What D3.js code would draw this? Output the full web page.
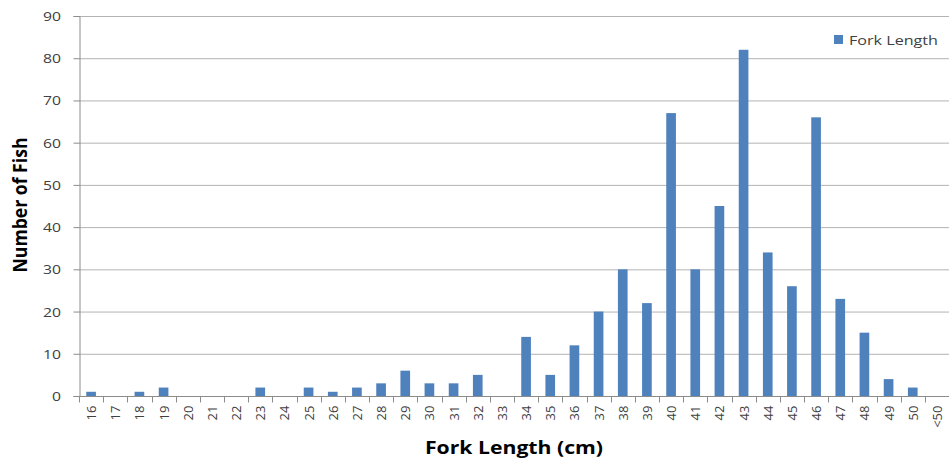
<!DOCTYPE html>
<html>
<head>
<meta charset="utf-8">
<script src="https://cdn.jsdelivr.net/npm/d3@7"></script>
<style>
  html, body { margin: 0; padding: 0; background: #fff; }
  svg { display: block; }
</style>
</head>
<body>
<svg id="chart" width="949" height="460"></svg>
<script>
// Fork length classes (cm) and fish counts
const categories = ["16","17","18","19","20","21","22","23","24","25","26","27","28","29","30","31","32","33",
  "34","35","36","37","38","39","40","41","42","43","44","45","46","47","48","49","50","<50"];
const counts = [1,0,1,2,0,0,0,2,0,2,1,2,3,6,3,3,5,0,
  14,5,12,20,30,22,67,30,45,82,34,26,66,23,15,4,2,0];
const yTicks = [0,10,20,30,40,50,60,70,80,90];
const seriesName = "Fork Length";

const svg = d3.select("#chart");
const margin = { left: 79, right: 0, top: 16, bottom: 64 };
const W = 949, H = 460;
const font = "'Open Sans', 'Noto Sans', sans-serif";
const textGrey = "#404040";
const axisGrey = "#8c8c8c";

const x = d3.scaleBand().domain(categories).range([margin.left, W - margin.right]).paddingInner(0.6).paddingOuter(0.3);
const y = d3.scaleLinear().domain([0, 90]).range([H - margin.bottom, margin.top]);

// horizontal gridlines
svg.append("g").selectAll("line").data(yTicks.filter(d => d > 0)).join("line")
  .attr("x1", margin.left).attr("x2", W - margin.right)
  .attr("y1", d => y(d) + 0.5).attr("y2", d => y(d) + 0.5)
  .attr("stroke", "#b3b3b3").attr("stroke-width", 1);

// bars
svg.append("g").selectAll("rect").data(categories.map((c, i) => ({ c, v: counts[i] }))).join("rect")
  .attr("x", d => x(d.c)).attr("width", x.bandwidth())
  .attr("y", d => y(d.v)).attr("height", d => y(0) - y(d.v))
  .attr("fill", "#4f81bd");

// y axis: line, ticks and wide labels
const gy = svg.append("g").attr("transform", `translate(${margin.left + 0.5},0)`)
  .call(d3.axisLeft(y).tickValues(yTicks).tickSize(6).tickFormat(""));
gy.select(".domain").attr("stroke", axisGrey);
gy.selectAll(".tick line").attr("stroke", axisGrey);
svg.append("g").selectAll("text").data(yTicks).join("text")
  .attr("x", 61).attr("y", d => y(d) + 5)
  .attr("text-anchor", "end")
  .attr("font-family", font).attr("font-size", 13.5).attr("fill", textGrey)
  .attr("textLength", d => String(d).length * 9).attr("lengthAdjust", "spacingAndGlyphs")
  .text(d => d);

// x axis: ticks sit between categories
const step = x.step();
const x0 = margin.left;
const gx = svg.append("g").attr("transform", `translate(0,${y(0) + 0.5})`);
gx.append("line").attr("x1", x0).attr("x2", W - margin.right).attr("stroke", axisGrey);
gx.selectAll("line.tk").data(d3.range(categories.length + 1)).join("line").attr("class", "tk")
  .attr("x1", i => Math.round(x0 + i * step) + 0.5).attr("x2", i => Math.round(x0 + i * step) + 0.5)
  .attr("y1", 0).attr("y2", 6).attr("stroke", axisGrey);
gx.selectAll("text").data(categories).join("text")
  .attr("transform", d => `translate(${x(d) + x.bandwidth() / 2 + 5},9) rotate(-90)`)
  .attr("text-anchor", "end")
  .attr("font-family", font).attr("font-size", 13).attr("fill", textGrey)
  .text(d => d);

// axis titles
svg.append("text").attr("x", 514).attr("y", 454).attr("text-anchor", "middle")
  .attr("font-family", font).attr("font-size", 17).attr("font-weight", "bold").attr("fill", "#000")
  .attr("textLength", 178).attr("lengthAdjust", "spacingAndGlyphs")
  .text("Fork Length (cm)");
svg.append("text").attr("transform", "translate(27,205) rotate(-90)").attr("text-anchor", "middle")
  .attr("font-family", font).attr("font-size", 19).attr("font-weight", "bold").attr("fill", "#000")
  .attr("textLength", 135).attr("lengthAdjust", "spacingAndGlyphs")
  .text("Number of Fish");

// legend
const lg = svg.append("g").attr("transform", "translate(834,35)");
lg.append("rect").attr("width", 9).attr("height", 9).attr("fill", "#4f81bd");
lg.append("text").attr("x", 15).attr("y", 10).attr("font-family", font).attr("font-size", 13.5).attr("fill", textGrey)
  .attr("textLength", 89).attr("lengthAdjust", "spacingAndGlyphs")
  .text(seriesName);
</script>
</body>
</html>
